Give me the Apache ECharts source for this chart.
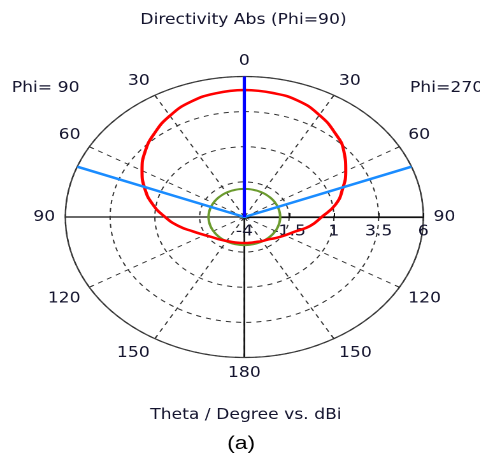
<!DOCTYPE html>
<html><head><meta charset="utf-8">
<script src="https://cdn.jsdelivr.net/npm/echarts@6/dist/echarts.min.js"></script>
<style>
html,body{margin:0;padding:0;background:#fff;}
#wrap{width:480px;height:455px;overflow:hidden;position:relative;background:#fff;}
#chart{width:376.8px;height:455px;transform:scaleX(1.274);transform-origin:0 0;}
</style></head><body>
<div id="wrap"><div id="chart"></div></div>
<script>
// Theta (degrees from boresight) sampled for the cut
const thetaDeg = [0,10,20,30,40,50,60,70,80,90,100,110,120,130,140,150,160,170,180];
// Directivity (dBi), Phi=270 half (right side)
const dirPhi270 = [5.04,4.97,4.80,4.38,3.85,3.26,2.54,1.84,1.18,0.32,-0.28,-0.98,-1.39,-1.68,-1.92,-2.02,-2.11,-2.14,-2.15];
// Directivity (dBi), Phi=90 half (left side)
const dirPhi90  = [5.04,4.95,4.73,4.32,3.80,3.24,2.60,1.92,1.20,0.43,-0.27,-0.97,-1.43,-1.73,-1.90,-2.03,-2.10,-2.14,-2.15];
// Reference level circle (dBi)
const refLevel = -2.0;
// Main lobe direction and 3 dB beam edges (theta, degrees)
const mainLobeTheta = 0;
const beamEdgeTheta = 69;
// Radial axis (dBi)
const rMin = -4, rMax = 6, rStep = 2.5;
const angleStep = 30;
const mainAxisStep = 90;

const FONT = "'DejaVu Sans Condensed','Liberation Sans',Arial,sans-serif";
const TXT = '#14142e';

const rightAngle = t => (t + 270) % 360;       // clockwise from 3 o'clock
const leftAngle  = t => (270 - t + 360) % 360;

const redData = [];
thetaDeg.forEach((t,i)=> redData.push([dirPhi270[i], rightAngle(t)]));
for (let i = thetaDeg.length - 2; i >= 0; i--) redData.push([dirPhi90[i], leftAngle(thetaDeg[i])]);

const greenData = [];
for (let a = 0; a <= 360; a += 5) greenData.push([refLevel, a]);

const center = [191.8, 217];
const radius = 140.5;

const chart = echarts.init(document.getElementById('chart'), null, {devicePixelRatio: 2});
chart.setOption({
  animation: false,
  backgroundColor: '#fff',
  textStyle: {fontFamily: FONT},
  polar: [
    {center: center, radius: radius},
    {center: center, radius: radius}
  ],
  angleAxis: [
    {
      polarIndex: 0, type: 'value', min: 0, max: 360, interval: angleStep,
      startAngle: 0, clockwise: true,
      axisLine: {show: true, lineStyle: {color: '#444', width: 1.2}},
      axisTick: {show: true, inside: true, length: 4, lineStyle: {color: '#333'}},
      axisLabel: {
        margin: 8, color: TXT, fontSize: 15, fontFamily: FONT,
        formatter: v => { const c = (v + 90) % 360; return String(c <= 180 ? c : 360 - c); }
      },
      splitLine: {show: true, lineStyle: {color: '#333', width: 1, type: [4,4]}}
    },
    {
      polarIndex: 1, type: 'value', min: 0, max: 360, interval: mainAxisStep,
      startAngle: 0, clockwise: true,
      axisLine:{show:false}, axisTick:{show:false}, axisLabel:{show:false},
      splitLine:{show:true, lineStyle:{color:'#111', width:1.3, type:'solid'}}
    }
  ],
  radiusAxis: [
    {
      polarIndex: 0, type: 'value', min: rMin, max: rMax, interval: rStep,
      axisLine: {show: true, lineStyle: {color: '#111', width: 1.3}},
      axisTick: {show: true, inside: true, length: 4, lineStyle: {color: '#111'}},
      axisLabel: {margin: -7, verticalAlign: 'top', color: TXT, fontSize: 15, fontFamily: FONT,
        formatter: v => String(v)},
      splitLine: {show: true, lineStyle: {color: '#333', width: 1, type: [4,4]}},
      z: 3
    },
    {polarIndex: 1, type: 'value', min: rMin, max: rMax,
      axisLine:{show:false}, axisTick:{show:false}, axisLabel:{show:false}, splitLine:{show:false}}
  ],
  graphic: [
    {type:'text', x: 191.1, y: 20, style:{text:'Directivity Abs (Phi=90)', font:'15px ' + FONT, fill: TXT, align:'center', verticalAlign:'middle'}},
    {type:'text', x: 9.2, y: 88, style:{text:'Phi= 90', font:'15px ' + FONT, fill: TXT, align:'left', verticalAlign:'middle'}},
    {type:'text', x: 321.8, y: 88, style:{text:'Phi=270', font:'15px ' + FONT, fill: TXT, align:'left', verticalAlign:'middle'}},
    {type:'text', x: 193, y: 415, style:{text:'Theta / Degree vs. dBi', font:'15px ' + FONT, fill: TXT, align:'center', verticalAlign:'middle'}},
    {type:'text', x: 189.2, y: 444, style:{text:'(a)', font:'18px Liberation Sans, Arial, sans-serif', fill: '#000', align:'center', verticalAlign:'middle'}}
  ],
  series: [
    {type:'line', coordinateSystem:'polar', polarIndex:0, data: greenData, showSymbol:false, smooth:true,
      lineStyle:{color:'#6b9b2e', width:2}, z: 3, silent: true},
    {type:'line', coordinateSystem:'polar', polarIndex:0, data: redData, showSymbol:false, smooth:0.5,
      lineStyle:{color:'#ff0000', width:2.5}, z: 4, silent: true},
    {type:'line', coordinateSystem:'polar', polarIndex:0,
      data: [[rMax, leftAngle(beamEdgeTheta)], [rMin, rightAngle(0)], [rMax, rightAngle(beamEdgeTheta)]],
      showSymbol:false, lineStyle:{color:'#1a8cff', width:2.5}, z: 5, silent: true},
    {type:'line', coordinateSystem:'polar', polarIndex:0,
      data: [[rMin, rightAngle(mainLobeTheta)], [rMax, rightAngle(mainLobeTheta)]],
      showSymbol:false, lineStyle:{color:'#0000ff', width:2.5}, z: 6, silent: true}
  ]
});
</script>
</body></html>
